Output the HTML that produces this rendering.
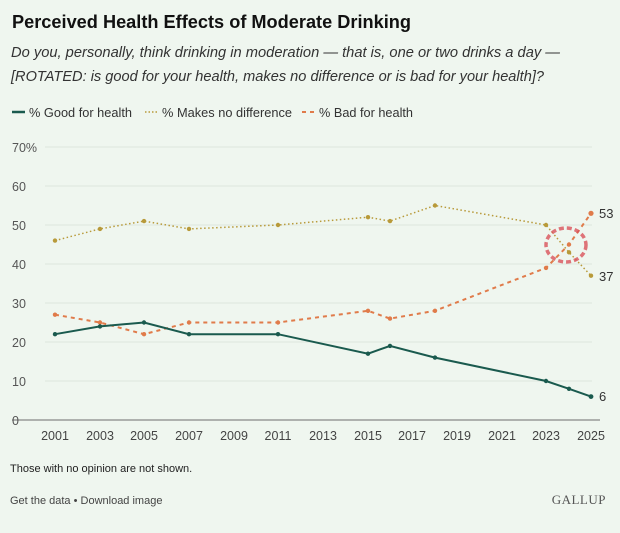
<!DOCTYPE html><html><head><style>
body{margin:0;width:620px;height:528px;background:#eff6ef;font-family:"Liberation Sans",sans-serif;overflow:hidden}
</style></head><body>
<svg width="620" height="528" xmlns="http://www.w3.org/2000/svg" font-family="Liberation Sans, sans-serif">
<rect width="620" height="528" fill="#eff6ef"/>
<text x="12" y="28" font-size="18" font-weight="bold" fill="#111" textLength="399" lengthAdjust="spacingAndGlyphs">Perceived Health Effects of Moderate Drinking</text>
<text x="11" y="57" font-size="14.5" font-style="italic" fill="#333" textLength="549" lengthAdjust="spacingAndGlyphs">Do you, personally, think drinking in moderation — that is, one or two drinks a day —</text>
<text x="11" y="81" font-size="14.5" font-style="italic" fill="#333" textLength="533" lengthAdjust="spacingAndGlyphs">[ROTATED: is good for your health, makes no difference or is bad for your health]?</text>
<line x1="12" y1="112" x2="25" y2="112" stroke="#1a5a4e" stroke-width="2.5"/>
<text x="29" y="117" font-size="12.5" fill="#333" textLength="103" lengthAdjust="spacingAndGlyphs">% Good for health</text>
<line x1="145" y1="112" x2="158" y2="112" stroke="#b89a3a" stroke-width="1.5" stroke-dasharray="1.5 2"/>
<text x="162" y="117" font-size="12.5" fill="#333" textLength="130" lengthAdjust="spacingAndGlyphs">% Makes no difference</text>
<line x1="302" y1="112" x2="315" y2="112" stroke="#e07b4a" stroke-width="2" stroke-dasharray="4 4"/>
<text x="319" y="117" font-size="12.5" fill="#333" textLength="94" lengthAdjust="spacingAndGlyphs">% Bad for health</text>
<g stroke="#dde6dd" stroke-width="1">
<line x1="45" y1="147" x2="592" y2="147"/><line x1="45" y1="186" x2="592" y2="186"/><line x1="45" y1="225" x2="592" y2="225"/><line x1="45" y1="264" x2="592" y2="264"/><line x1="45" y1="303" x2="592" y2="303"/><line x1="45" y1="342" x2="592" y2="342"/><line x1="45" y1="381" x2="592" y2="381"/>
</g>
<line x1="12" y1="420" x2="600" y2="420" stroke="#888" stroke-width="1.2"/>
<g font-size="12.5" fill="#555">
<text x="12" y="152">70%</text><text x="12" y="191">60</text><text x="12" y="230">50</text><text x="12" y="269">40</text><text x="12" y="308">30</text><text x="12" y="347">20</text><text x="12" y="386">10</text><text x="12" y="425">0</text>
</g>
<g font-size="12.5" fill="#444" text-anchor="middle">
<text x="55" y="440">2001</text><text x="100" y="440">2003</text><text x="144" y="440">2005</text><text x="189" y="440">2007</text><text x="234" y="440">2009</text><text x="278" y="440">2011</text><text x="323" y="440">2013</text><text x="368" y="440">2015</text><text x="412" y="440">2017</text><text x="457" y="440">2019</text><text x="502" y="440">2021</text><text x="546" y="440">2023</text><text x="591" y="440">2025</text>
</g>
<polyline fill="none" stroke="#b89a3a" stroke-width="1.5" stroke-dasharray="1.5 2.5" points="55,240.6 100,228.9 144,221.1 189,228.9 278,225 368,217.2 390,221.1 435,205.5 546,225 569,252.3 591,275.7"/>
<polyline fill="none" stroke="#e07b4a" stroke-width="2" stroke-dasharray="4 4" points="55,314.7 100,322.5 144,334.2 189,322.5 278,322.5 368,310.8 390,318.6 435,310.8 546,267.9 569,244.5 591,213.3"/>
<polyline fill="none" stroke="#1a5a4e" stroke-width="2" points="55,334.2 100,326.4 144,322.5 189,334.2 278,334.2 368,353.7 390,345.9 435,357.6 546,381 569,388.8 591,396.6"/>
<g fill="#b89a3a"><circle cx="55" cy="240.6" r="2.2"/><circle cx="100" cy="228.9" r="2.2"/><circle cx="144" cy="221.1" r="2.2"/><circle cx="189" cy="228.9" r="2.2"/><circle cx="278" cy="225" r="2.2"/><circle cx="368" cy="217.2" r="2.2"/><circle cx="390" cy="221.1" r="2.2"/><circle cx="435" cy="205.5" r="2.2"/><circle cx="546" cy="225" r="2.2"/><circle cx="569" cy="252.3" r="2.2"/><circle cx="591" cy="275.7" r="2.2"/></g>
<g fill="#e07b4a"><circle cx="55" cy="314.7" r="2.2"/><circle cx="100" cy="322.5" r="2.2"/><circle cx="144" cy="334.2" r="2.2"/><circle cx="189" cy="322.5" r="2.2"/><circle cx="278" cy="322.5" r="2.2"/><circle cx="368" cy="310.8" r="2.2"/><circle cx="390" cy="318.6" r="2.2"/><circle cx="435" cy="310.8" r="2.2"/><circle cx="546" cy="267.9" r="2.2"/><circle cx="569" cy="244.5" r="2.2"/><circle cx="591" cy="213.3" r="2.6"/></g>
<g fill="#1a5a4e"><circle cx="55" cy="334.2" r="2.2"/><circle cx="100" cy="326.4" r="2.2"/><circle cx="144" cy="322.5" r="2.2"/><circle cx="189" cy="334.2" r="2.2"/><circle cx="278" cy="334.2" r="2.2"/><circle cx="368" cy="353.7" r="2.2"/><circle cx="390" cy="345.9" r="2.2"/><circle cx="435" cy="357.6" r="2.2"/><circle cx="546" cy="381" r="2.2"/><circle cx="569" cy="388.8" r="2.2"/><circle cx="591" cy="396.6" r="2.4"/></g>
<ellipse cx="566" cy="245" rx="20" ry="17" fill="none" stroke="#d9535a" stroke-width="3.5" stroke-dasharray="5 3" opacity="0.8"/>
<g font-size="13" fill="#333"><text x="599" y="218">53</text><text x="599" y="281">37</text><text x="599" y="401">6</text></g>
<text x="10" y="472" font-size="11" fill="#222">Those with no opinion are not shown.</text>
<text x="10" y="504" font-size="11" fill="#444">Get the data • Download image</text>
<text x="606" y="504" font-size="13" font-family="Liberation Serif, serif" fill="#555" text-anchor="end" letter-spacing="0.5">GALLUP</text>
</svg>
</body></html>
